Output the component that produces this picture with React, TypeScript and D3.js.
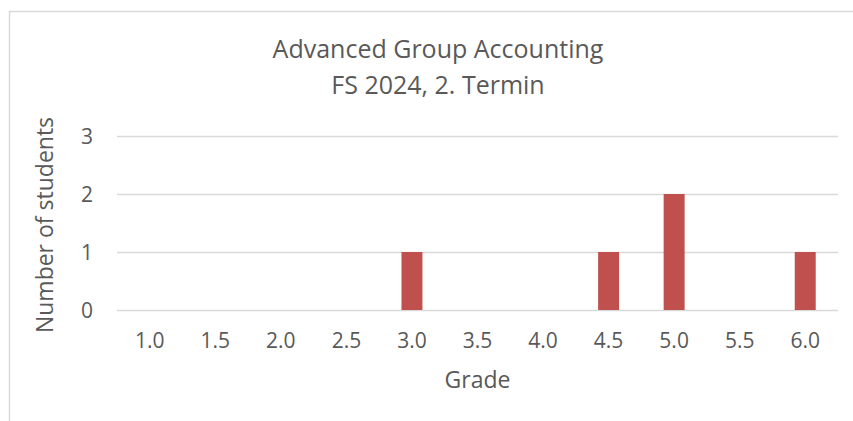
import React, { useEffect, useRef } from 'react';
import * as d3 from 'd3';

// grade categories and counts
const GRADES = ['1.0', '1.5', '2.0', '2.5', '3.0', '3.5', '4.0', '4.5', '5.0', '5.5', '6.0'];
const COUNTS = [0, 0, 0, 0, 1, 0, 0, 1, 2, 0, 1];
const Y_TICKS = [0, 1, 2, 3];
const TITLE_LINES = ['Advanced Group Accounting', 'FS 2024, 2. Termin'];

const WIDTH = 853;
const HEIGHT = 421;
const FONT = '"Open Sans", "Segoe UI", sans-serif';
const TEXT = '#595959';
const GRID = '#D9D9D9';
const BAR = '#C0504D';

const App: React.FC = () => {
  const svgRef = useRef<SVGSVGElement>(null);

  useEffect(() => {
    if (!svgRef.current) return;
    const svg = d3.select(svgRef.current);
    svg.selectAll('*').remove();

    const margin = { top: 136, right: 15, bottom: 111, left: 117 };
    const innerW = WIDTH - margin.left - margin.right;
    const innerH = HEIGHT - margin.top - margin.bottom;

    // chart frame (cut off at right and bottom like the screenshot)
    svg.append('rect')
      .attr('x', 9.5)
      .attr('y', 11.5)
      .attr('width', WIDTH + 10)
      .attr('height', HEIGHT + 10)
      .attr('fill', '#fff')
      .attr('stroke', GRID)
      .attr('stroke-width', 1.5);

    // title
    TITLE_LINES.forEach((line, i) => {
      svg.append('text')
        .attr('x', 438)
        .attr('y', 58 + i * 36)
        .attr('text-anchor', 'middle')
        .attr('fill', TEXT)
        .attr('font-family', FONT)
        .attr('font-size', '25px')
        .text(line);
    });

    const g = svg.append('g').attr('transform', `translate(${margin.left},${margin.top})`);

    const x = d3.scaleBand().domain(GRADES).range([0, innerW]).paddingInner(0.68).paddingOuter(0.34);
    const y = d3.scaleLinear().domain([0, 3]).range([innerH, 0]);

    // gridlines
    g.selectAll('.grid')
      .data(Y_TICKS)
      .enter()
      .append('line')
      .attr('x1', 0)
      .attr('x2', innerW)
      .attr('y1', (d) => Math.round(y(d)) + 0.5)
      .attr('y2', (d) => Math.round(y(d)) + 0.5)
      .attr('stroke', GRID)
      .attr('stroke-width', 1.5);

    // y tick labels
    g.selectAll('.ytick')
      .data(Y_TICKS)
      .enter()
      .append('text')
      .attr('x', -24)
      .attr('y', (d) => y(d) + 7.5)
      .attr('text-anchor', 'end')
      .attr('fill', TEXT)
      .attr('font-family', FONT)
      .attr('font-size', '21px')
      .text((d) => d);

    // bars
    g.selectAll('.bar')
      .data(GRADES.map((grade, i) => ({ grade, count: COUNTS[i] })))
      .enter()
      .filter((d) => d.count > 0)
      .append('rect')
      .attr('x', (d) => x(d.grade)!)
      .attr('y', (d) => y(d.count))
      .attr('width', x.bandwidth())
      .attr('height', (d) => innerH - y(d.count))
      .attr('fill', BAR);

    // x tick labels
    g.selectAll('.xtick')
      .data(GRADES)
      .enter()
      .append('text')
      .attr('x', (d) => x(d)! + x.bandwidth() / 2)
      .attr('y', innerH + 38)
      .attr('text-anchor', 'middle')
      .attr('fill', TEXT)
      .attr('font-family', FONT)
      .attr('font-size', '21px')
      .text((d) => d);

    // axis titles
    g.append('text')
      .attr('x', innerW / 2)
      .attr('y', innerH + 78)
      .attr('text-anchor', 'middle')
      .attr('fill', TEXT)
      .attr('font-family', FONT)
      .attr('font-size', '23px')
      .text('Grade');

    svg.append('text')
      .attr('transform', `translate(53,${(117 + 333) / 2}) rotate(-90)`)
      .attr('text-anchor', 'middle')
      .attr('fill', TEXT)
      .attr('font-family', FONT)
      .attr('font-size', '23px')
      .text('Number of students');
  }, []);

  return (
    <svg
      ref={svgRef}
      width={WIDTH}
      height={HEIGHT}
      style={{ display: 'block', position: 'absolute', left: 0, top: 0, background: '#fff' }}
    />
  );
};

export default App;
